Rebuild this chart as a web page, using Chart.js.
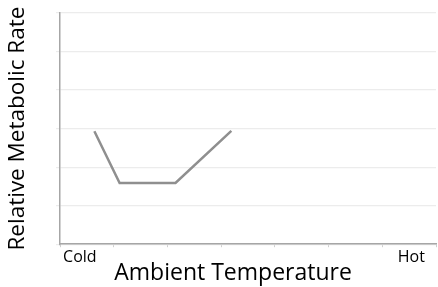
<!DOCTYPE html>
<html>
<head>
<meta charset="utf-8">
<script src="https://cdn.jsdelivr.net/npm/chart.js@4.4.1/dist/chart.umd.min.js"></script>
<style>
  html, body { margin: 0; padding: 0; background: #ffffff; }
  #wrap { width: 438px; height: 287px; position: relative; }
</style>
</head>
<body>
<div id="wrap"><canvas id="c"></canvas></div>
<script>
// Data
const xValues = [0.64, 1.11, 2.15, 3.19];          // ambient temperature (relative units)
const yValues = [2.93, 1.59, 1.59, 2.94];          // relative metabolic rate
const tickLabels = ['Cold', 'Hot'];
const tickLabelPositions = [0.37, 6.54];
const xTitle = 'Ambient Temperature';
const yTitle = 'Relative Metabolic Rate';

const points = xValues.map((x, i) => ({ x: x, y: yValues[i] }));
const fontFamily = "'Open Sans', 'Liberation Sans', sans-serif";

new Chart(document.getElementById('c'), {
  type: 'line',
  data: {
    datasets: [{
      data: points,
      borderColor: '#8f8f8f',
      borderWidth: 2.5,
      pointRadius: 0,
      tension: 0,
      fill: false
    }]
  },
  options: {
    responsive: true,
    maintainAspectRatio: false,
    animation: false,
    layout: { padding: { top: 13, right: 2, left: 4, bottom: 0 } },
    plugins: { legend: { display: false }, tooltip: { enabled: false } },
    scales: {
      x: {
        type: 'linear',
        min: 0,
        max: 7,
        afterBuildTicks: (scale) => {
          const t = [];
          for (let i = 0; i <= 7; i++) t.push({ value: i });
          tickLabelPositions.forEach(v => t.push({ value: v }));
          t.sort((a, b) => a.value - b.value);
          scale.ticks = t;
        },
        grid: {
          drawOnChartArea: false,
          tickLength: 3,
          tickColor: (ctx) => (ctx.tick && Number.isInteger(ctx.tick.value)) ? '#cfcfcf' : 'rgba(0,0,0,0)'
        },
        border: { color: '#a6a6a6', width: 1.5 },
        ticks: {
          autoSkip: false,
          maxRotation: 0,
          padding: 1,
          color: '#000000',
          font: { family: fontFamily, size: 16 },
          callback: (value) => {
            const idx = tickLabelPositions.indexOf(value);
            return idx >= 0 ? tickLabels[idx] : '';
          }
        },
        title: {
          display: true,
          text: xTitle + '\u00a0\u00a0\u00a0\u00a0\u00a0',
          color: '#000000',
          font: { family: fontFamily, size: 23 },
          padding: { top: -9, bottom: 0 }
        }
      },
      y: {
        min: 0,
        max: 6,
        ticks: { stepSize: 1, display: false },
        grid: { color: '#ececec', lineWidth: 1.2, tickLength: 4, tickColor: '#ececec' },
        border: { color: '#a6a6a6', width: 1.5 },
        title: {
          display: true,
          text: yTitle,
          color: '#000000',
          font: { family: fontFamily, size: 22.5 },
          padding: { top: 0, bottom: 25 }
        }
      }
    }
  }
});
</script>
</body>
</html>
